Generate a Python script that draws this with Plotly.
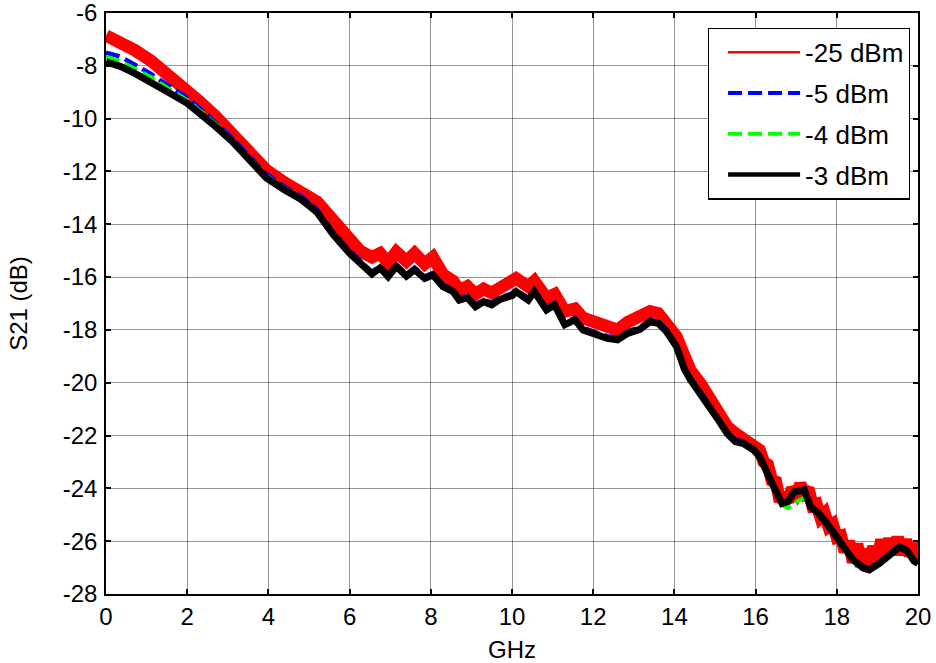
import plotly.graph_objects as go

# ---- data ----
freq_ghz = [0, 0.35, 0.7, 1.1, 1.5, 2.0, 2.3, 2.7, 3.1, 3.5,
            3.95, 4.4, 4.8, 5.2, 5.6, 6.0, 6.25, 6.55, 6.75, 6.95,
            7.15, 7.4, 7.6, 7.85, 8.05, 8.3, 8.55, 8.7, 8.9, 9.1,
            9.3, 9.5, 9.7, 10.0, 10.1, 10.4, 10.55, 10.85, 11.05, 11.3,
            11.55, 11.75, 12.1, 12.35, 12.6, 12.85, 13.15, 13.4, 13.6, 13.8,
            14.05, 14.25, 14.4, 14.65, 14.9, 15.1, 15.3, 15.5, 15.7, 15.95,
            16.1, 16.25, 16.45, 16.65, 16.8, 16.95, 17.2, 17.35, 17.55, 17.75,
            18.0, 18.15, 18.4, 18.65, 18.8, 19.05, 19.3, 19.55, 19.75, 19.9,
            20.0]

s21_m3dbm = [-7.85, -8.02, -8.28, -8.6, -8.97, -9.42, -9.78, -10.3, -10.85, -11.5,
             -12.25, -12.7, -13.05, -13.55, -14.4, -15.1, -15.45, -15.88, -15.65, -15.98,
             -15.6, -15.96, -15.72, -16.05, -15.92, -16.36, -16.55, -16.87, -16.78, -17.12,
             -16.93, -17.05, -16.85, -16.7, -16.55, -16.87, -16.55, -17.25, -17.06, -17.8,
             -17.62, -18.0, -18.19, -18.32, -18.38, -18.13, -17.98, -17.69, -17.75, -18.05,
             -18.63, -19.5, -19.9, -20.42, -21.03, -21.45, -21.92, -22.23, -22.3, -22.55,
             -22.8, -23.35, -23.95, -24.57, -24.5, -24.13, -24.06, -24.69, -24.94, -25.32,
             -25.82, -26.2, -26.71, -27.02, -27.09, -26.84, -26.52, -26.21, -26.4, -26.75,
             -26.85]

s21_m5dbm = [-7.5, -7.65, -7.95, -8.3, -8.72, -9.2, -9.6, -10.15, -10.72, -11.38,
             -12.1, -12.58, -12.93, -13.45, -14.3, -15.0, -15.36, -15.8, -15.57, -15.9,
             -15.52, -15.88, -15.64, -15.97, -15.84, -16.28, -16.47, -16.79, -16.7, -17.04,
             -16.85, -16.97, -16.77, -16.62, -16.47, -16.79, -16.47, -17.17, -16.98, -17.72,
             -17.54, -17.92, -18.11, -18.24, -18.3, -18.05, -17.9, -17.61, -17.67, -17.97,
             -18.55, -19.42, -19.82, -20.34, -20.95, -21.37, -21.84, -22.15, -22.22, -22.47,
             -22.72, -23.27, -23.87, -24.5, -24.45, -24.1, -24.0, -24.62, -24.87, -25.25,
             -25.75, -26.13, -26.64, -26.95, -27.02, -26.77, -26.45, -26.14, -26.33, -26.68,
             -26.78]

s21_m4dbm = [-7.65, -7.82, -8.1, -8.42, -8.82, -9.3, -9.68, -10.2, -10.78, -11.44,
             -12.17, -12.63, -12.98, -13.5, -14.34, -15.04, -15.4, -15.83, -15.6, -15.93,
             -15.55, -15.91, -15.67, -16.0, -15.87, -16.31, -16.5, -16.82, -16.73, -17.07,
             -16.88, -17.0, -16.8, -16.65, -16.5, -16.82, -16.5, -17.2, -17.01, -17.75,
             -17.57, -17.95, -18.14, -18.27, -18.33, -18.08, -17.93, -17.64, -17.7, -18.0,
             -18.58, -19.45, -19.85, -20.37, -20.98, -21.4, -21.87, -22.18, -22.25, -22.5,
             -22.75, -23.3, -23.92, -24.62, -24.75, -24.55, -24.35, -24.72, -24.92, -25.28,
             -25.78, -26.16, -26.67, -26.98, -27.05, -26.8, -26.48, -26.17, -26.36, -26.71,
             -26.81]

freq_red_ghz = [0, 0.35, 0.7, 1.1, 1.5, 2.0, 2.3, 2.7, 3.1, 3.5,
                3.95, 4.4, 4.8, 5.2, 5.6, 6.0, 6.25, 6.55, 6.75, 6.95,
                7.15, 7.4, 7.6, 7.85, 8.05, 8.3, 8.55, 8.7, 8.9, 9.1,
                9.3, 9.5, 9.7, 10.0, 10.1, 10.4, 10.55, 10.85, 11.05, 11.3,
                11.55, 11.75, 12.1, 12.35, 12.6, 12.85, 13.15, 13.4, 13.6, 13.8,
                14.05, 14.25, 14.4, 14.65, 14.9, 15.1, 15.3, 15.5, 15.7, 15.95,
                16.1, 16.2, 16.3, 16.4, 16.5, 16.6, 16.7, 16.8, 16.9, 17.0,
                17.1, 17.2, 17.3, 17.4, 17.5, 17.6, 17.7, 17.8, 17.9, 18.0,
                18.1, 18.2, 18.3, 18.4, 18.5, 18.6, 18.7, 18.8, 18.9, 19.0,
                19.1, 19.2, 19.3, 19.4, 19.5, 19.6, 19.7, 19.8, 19.9, 20.0]

s21_m25dbm = [-6.85, -7.1, -7.4, -7.8, -8.28, -8.95, -9.35, -9.92, -10.6, -11.28,
              -11.95, -12.42, -12.72, -13.15, -13.85, -14.65, -15.0, -15.25, -15.1, -15.45,
              -15.05, -15.4, -15.1, -15.5, -15.25, -15.9, -16.15, -16.5, -16.35, -16.65,
              -16.45, -16.6, -16.4, -16.15, -16.05, -16.36, -16.15, -16.8, -16.65, -17.3,
              -17.2, -17.55, -17.75, -17.8, -18.0, -17.7, -17.5, -17.3, -17.37, -17.69,
              -18.26, -19.0, -19.55, -20.05, -20.65, -21.15, -21.66, -21.92, -22.17, -22.36,
              -22.55, -23.0, -23.1, -23.7, -23.75, -24.5, -24.2, -24.5, -24.0, -24.2,
              -23.85, -24.15, -24.0, -24.65, -24.6, -25.1, -24.95, -25.45, -25.35, -25.85,
              -25.8, -26.4, -26.0, -26.8, -26.1, -26.95, -26.3, -27.0, -26.2, -26.7,
              -25.95, -26.6, -25.9, -26.5, -25.85, -26.5, -25.95, -26.55, -26.1, -26.7]

series_names = ["-25 dBm", "-5 dBm", "-4 dBm", "-3 dBm"]
x_ticks = [0, 2, 4, 6, 8, 10, 12, 14, 16, 18, 20]
y_ticks = [-28, -26, -24, -22, -20, -18, -16, -14, -12, -10, -8, -6]

FONT = "Liberation Sans, Arial, sans-serif"
RED, BLUE, GREEN, BLACK = "#ff0000", "#0000ff", "#00ff00", "#000000"
DASH = "14px,6px"

fig = go.Figure()

# data traces (legend uses thin-styled proxy entries, as in the original)
fig.add_trace(go.Scatter(x=freq_red_ghz, y=s21_m25dbm, mode="lines",
                         line=dict(color=RED, width=12.5), showlegend=False,
                         name=series_names[0]))
fig.add_trace(go.Scatter(x=freq_ghz, y=s21_m5dbm, mode="lines",
                         line=dict(color=BLUE, width=4.5, dash=DASH), showlegend=False,
                         name=series_names[1]))
fig.add_trace(go.Scatter(x=freq_ghz, y=s21_m4dbm, mode="lines",
                         line=dict(color=GREEN, width=4, dash=DASH), showlegend=False,
                         name=series_names[2]))
fig.add_trace(go.Scatter(x=freq_ghz, y=s21_m3dbm, mode="lines",
                         line=dict(color=BLACK, width=7), showlegend=False,
                         name=series_names[3]))

legend_styles = [dict(color=RED, width=2.5),
                 dict(color=BLUE, width=4, dash=DASH),
                 dict(color=GREEN, width=4, dash=DASH),
                 dict(color=BLACK, width=4.5)]
for i, (nm, st) in enumerate(zip(series_names, legend_styles)):
    fig.add_trace(go.Scatter(x=[None], y=[None], mode="lines", line=st, name=nm,
                             legendgroup=f"g{i}", showlegend=True))

axis_common = dict(
    showline=True, linecolor="black", linewidth=1.5, mirror="ticks",
    ticks="inside", ticklen=5, tickwidth=1.5, tickcolor="black",
    showgrid=True, gridcolor="rgba(0,0,0,0.42)", gridwidth=1,
    zeroline=False, ticklabeloverflow="allow",
    tickfont=dict(family=FONT, size=24, color="black"),
)

fig.update_xaxes(range=[0, 20], tickvals=x_ticks, ticktext=[str(v) for v in x_ticks],
                 title=dict(text="GHz", font=dict(family=FONT, size=24, color="black"), standoff=15),
                 ticklabelstandoff=0, **axis_common)
fig.update_yaxes(range=[-28, -6], tickvals=y_ticks, ticktext=[str(v) for v in y_ticks],
                 title=dict(text="S21 (dB)", font=dict(family=FONT, size=24, color="black"), standoff=28),
                 ticklabelstandoff=2, **axis_common)

fig.update_layout(
    width=936, height=663,
    margin=dict(l=106, r=18, t=13, b=69, autoexpand=False),
    paper_bgcolor="white", plot_bgcolor="white",
    font=dict(family=FONT, size=24, color="black"),
    showlegend=True,
    legend=dict(x=0.99, xanchor="right", y=0.975, yanchor="top",
                bgcolor="white", bordercolor="black", borderwidth=1.2,
                font=dict(family=FONT, size=26, color="black"),
                itemwidth=72, indentation=14, tracegroupgap=4, traceorder="grouped"),
)

# remove the default page margin so the figure fills the 936x663 window
fig.write_html("out.html", config={"displayModeBar": False},
               post_script="document.body.style.margin='0';")
